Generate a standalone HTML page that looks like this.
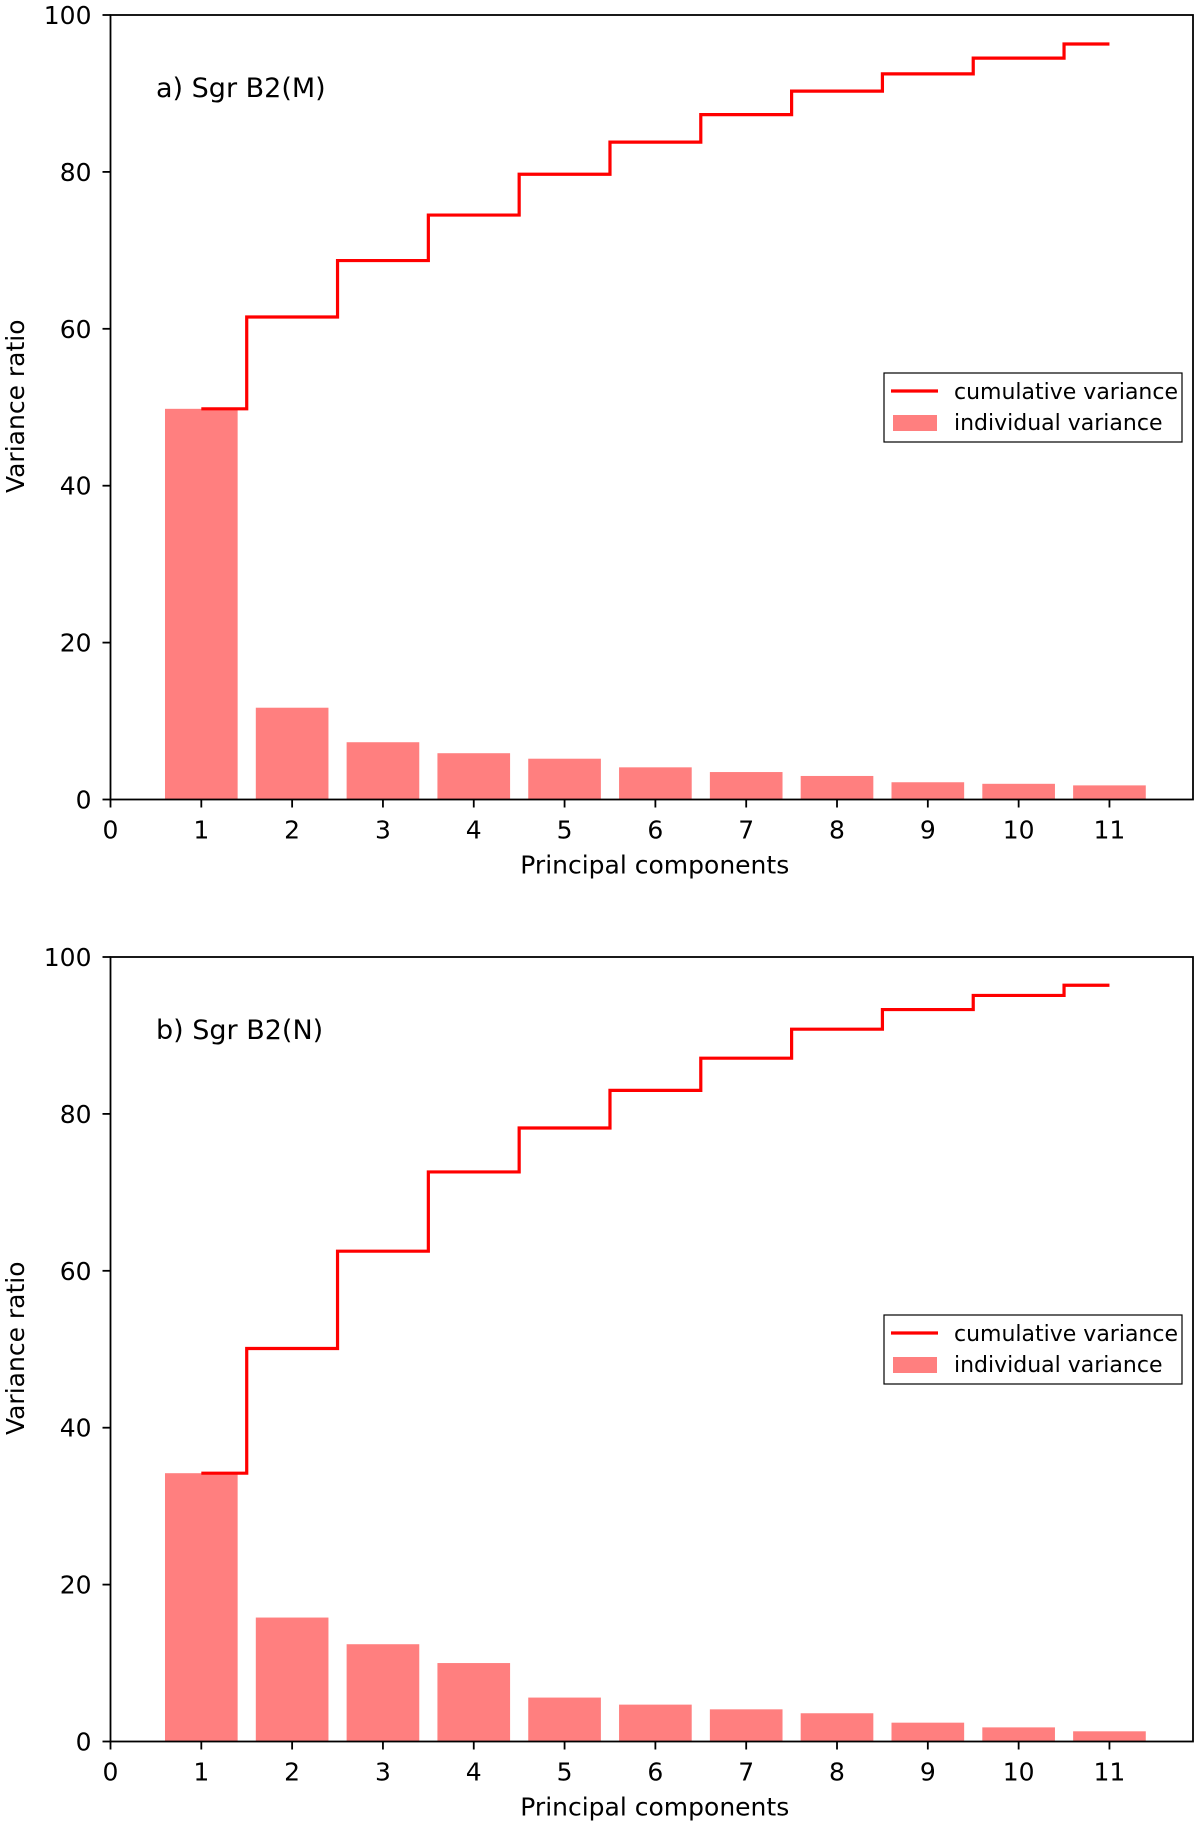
<!DOCTYPE html>
<html><head><meta charset="utf-8"><style>
html,body{margin:0;padding:0;background:#fff}
svg{display:block;font-family:"DejaVu Sans","Liberation Sans",sans-serif}
</style></head><body>
<svg id="fig" width="1200" height="1827" viewBox="0 0 1200 1827" xmlns="http://www.w3.org/2000/svg"></svg>
<script>
const components = [1,2,3,4,5,6,7,8,9,10,11];
const xTicks = [0,1,2,3,4,5,6,7,8,9,10,11];
const yTicks = [0,20,40,60,80,100];
const indivM = [49.8,11.7,7.3,5.9,5.2,4.1,3.5,3.0,2.2,2.0,1.8];
const cumulM = [49.8,61.5,68.7,74.5,79.7,83.8,87.3,90.3,92.5,94.5,96.3];
const indivN = [34.2,15.8,12.4,10.0,5.6,4.7,4.1,3.6,2.4,1.8,1.3];
const cumulN = [34.2,50.1,62.5,72.6,78.2,83.0,87.1,90.8,93.3,95.1,96.4];
const panelTitles = ["a) Sgr B2(M)","b) Sgr B2(N)"];

const NS="http://www.w3.org/2000/svg";
const svg=document.getElementById('fig');
function mk(tag,attrs,parent){const e=document.createElementNS(NS,tag);for(const k in attrs)e.setAttribute(k,attrs[k]);(parent||svg).appendChild(e);return e;}

function panel(top, indiv, cumul, title, key){
  const L=110.5,R=1193,T=top,B=top+784.5;
  const xmin=0,xmax=11.92,ymin=0,ymax=100;
  const sx=v=>L+(v-xmin)/(xmax-xmin)*(R-L);
  const sy=v=>B-(v-ymin)/(ymax-ymin)*(B-T);
  const g=mk('g',{});
  
  
  components.forEach((c,i)=>{
    const r=mk('rect',{x:sx(c-0.4),y:sy(indiv[i]),width:sx(c+0.4)-sx(c-0.4),height:sy(0)-sy(indiv[i]),fill:'#ff7f7f'},g);
    
    
  });
  let d='';
  components.forEach((c,i)=>{
    const x0=i===0?c:c-0.5, x1=i===components.length-1?c:c+0.5;
    d+=(i===0?'M':'L')+sx(x0)+','+sy(cumul[i])+' L'+sx(x1)+','+sy(cumul[i])+' ';
  });
  const p=mk('path',{d:d,fill:'none',stroke:'#ff0000','stroke-width':3.2},g);
  
  
  const f=mk('rect',{x:L,y:T,width:R-L,height:B-T,fill:'none',stroke:'#000','stroke-width':1.8},g);
  
  
  xTicks.forEach(t=>{
    mk('line',{x1:sx(t),x2:sx(t),y1:B,y2:B+8,stroke:'#000','stroke-width':1.8},g);
    const tx=mk('text',{x:sx(t),y:B+39,'font-size':25,'text-anchor':'middle',fill:'#000'},g);
    tx.textContent=t;
    
    
  });
  yTicks.forEach(t=>{
    mk('line',{x1:L-8,x2:L,y1:sy(t),y2:sy(t),stroke:'#000','stroke-width':1.8},g);
    const tx=mk('text',{x:L-19,y:sy(t)+9,'font-size':25,'text-anchor':'end',fill:'#000'},g);
    tx.textContent=t;
    
    
  });
  const xl=mk('text',{x:(L+R)/2+3,y:B+74,'font-size':25,'text-anchor':'middle'},g);
  xl.textContent='Principal components';
  
  
  const yl=mk('text',{x:0,y:0,'font-size':25,'text-anchor':'middle',transform:'translate(24,'+((T+B)/2-1)+') rotate(-90)'},g);
  yl.textContent='Variance ratio';
  
  
  const tt=mk('text',{x:156,y:T+82,'font-size':27},g);
  tt.textContent=title;
  
  
  const lg=mk('g',{},g);
  
  
  const ly=T+358;
  mk('rect',{x:884,y:ly,width:298,height:69,fill:'#fff',stroke:'#000','stroke-width':1.2},lg);
  mk('line',{x1:891,x2:938,y1:ly+18,y2:ly+18,stroke:'#ff0000','stroke-width':3.2},lg);
  mk('rect',{x:893,y:ly+42,width:44,height:16,fill:'#ff7f7f'},lg);
  const t1=mk('text',{x:954,y:ly+26,'font-size':22},lg);t1.textContent='cumulative variance';
  
  
  const t2=mk('text',{x:954,y:ly+57,'font-size':22},lg);t2.textContent='individual variance';
  
  
}
panel(15, indivM, cumulM, panelTitles[0], 'sgr-b2-m');
panel(957, indivN, cumulN, panelTitles[1], 'sgr-b2-n');
</script>
</body></html>
